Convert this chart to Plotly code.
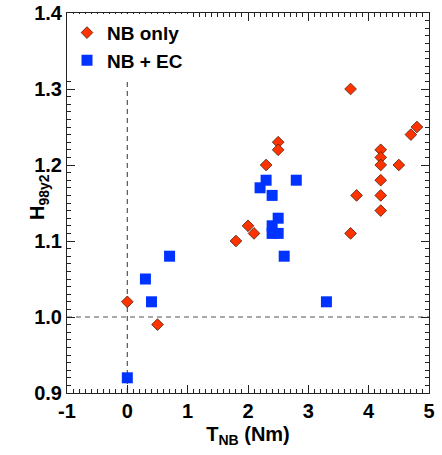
import plotly.graph_objects as go

# NB only (red diamonds)
nb_x = [0.0, 0.5, 1.8, 2.0, 2.1, 2.3, 2.5, 2.5, 3.7, 3.7, 3.8,
        4.2, 4.2, 4.2, 4.2, 4.2, 4.2, 4.5, 4.7, 4.8]
nb_y = [1.02, 0.99, 1.10, 1.12, 1.11, 1.20, 1.23, 1.22, 1.30, 1.11, 1.16,
        1.22, 1.21, 1.20, 1.18, 1.16, 1.14, 1.20, 1.24, 1.25]

# NB + EC (blue squares)
ec_x = [0.0, 0.3, 0.4, 0.7, 2.2, 2.3, 2.4, 2.4, 2.4, 2.5, 2.5, 2.6, 2.8, 3.3]
ec_y = [0.92, 1.05, 1.02, 1.08, 1.17, 1.18, 1.16, 1.12, 1.11, 1.13, 1.11, 1.08, 1.18, 1.02]

x_ticks = [-1, 0, 1, 2, 3, 4, 5]
x_tick_text = ["-1", "0", "1", "2", "3", "4", "5"]
y_ticks = [0.9, 1.0, 1.1, 1.2, 1.3, 1.4]
y_tick_text = ["0.9", "1.0", "1.1", "1.2", "1.3", "1.4"]

FONT = "Liberation Sans, Arial, sans-serif"

fig = go.Figure()
fig.add_trace(go.Scatter(
    x=nb_x, y=nb_y, mode="markers", name="NB only",
    marker=dict(symbol="diamond", size=9, color="#FF3300",
                line=dict(color="#442211", width=0.8)),
))
fig.add_trace(go.Scatter(
    x=ec_x, y=ec_y, mode="markers", name="NB + EC",
    marker=dict(symbol="square", size=11, color="#0033FF",
                line=dict(width=0)),
))

fig.add_shape(type="line", xref="x", yref="y", x0=0, x1=0, y0=0.9, y1=1.4,
              line=dict(color="#555555", width=1.2, dash="5px,4px"), layer="below")
fig.add_shape(type="line", xref="x", yref="y", x0=-1, x1=5, y0=1.0, y1=1.0,
              line=dict(color="#555555", width=1.2, dash="5px,4px"), layer="below")

axis_common = dict(
    showgrid=False, zeroline=False, showline=True, linecolor="#222222", linewidth=1,
    mirror="allticks", ticks="inside", ticklen=8, tickcolor="#222222", tickwidth=1,
    tickfont=dict(family=FONT, size=20, color="black", weight="bold"),
    automargin=False,
)

fig.update_xaxes(
    range=[-1, 5], tickvals=x_ticks, ticktext=x_tick_text,
    minor=dict(dtick=0.1, ticks="inside", ticklen=4, tickcolor="#222222"),
    title=dict(text="T<sub>NB</sub> (Nm)", font=dict(family=FONT, size=20, color="black", weight="bold"),
               standoff=5),
    **axis_common,
)
fig.update_yaxes(
    range=[0.9, 1.4], tickvals=y_ticks, ticktext=y_tick_text,
    minor=dict(dtick=0.01, ticks="inside", ticklen=4, tickcolor="#222222"),
    **axis_common,
)

# y-axis title placed close to the tick labels, as in the reference
fig.add_annotation(
    text="H<sub>98y2</sub>", xref="paper", yref="paper",
    x=-0.078, y=0.515, xanchor="center", yanchor="middle",
    textangle=-90, showarrow=False,
    font=dict(family=FONT, size=20, color="black", weight="bold"),
)

fig.update_layout(
    width=442, height=455,
    margin=dict(l=67, r=13, t=13, b=62, autoexpand=False),
    paper_bgcolor="white", plot_bgcolor="white",
    showlegend=True,
    legend=dict(x=0.0, y=0.998, xanchor="left", yanchor="top",
                bgcolor="rgba(255,255,255,1)", borderwidth=0,
                font=dict(family=FONT, size=19, color="black", weight="bold"),
                tracegroupgap=0, itemwidth=30),
)

fig.write_html("out.html")
